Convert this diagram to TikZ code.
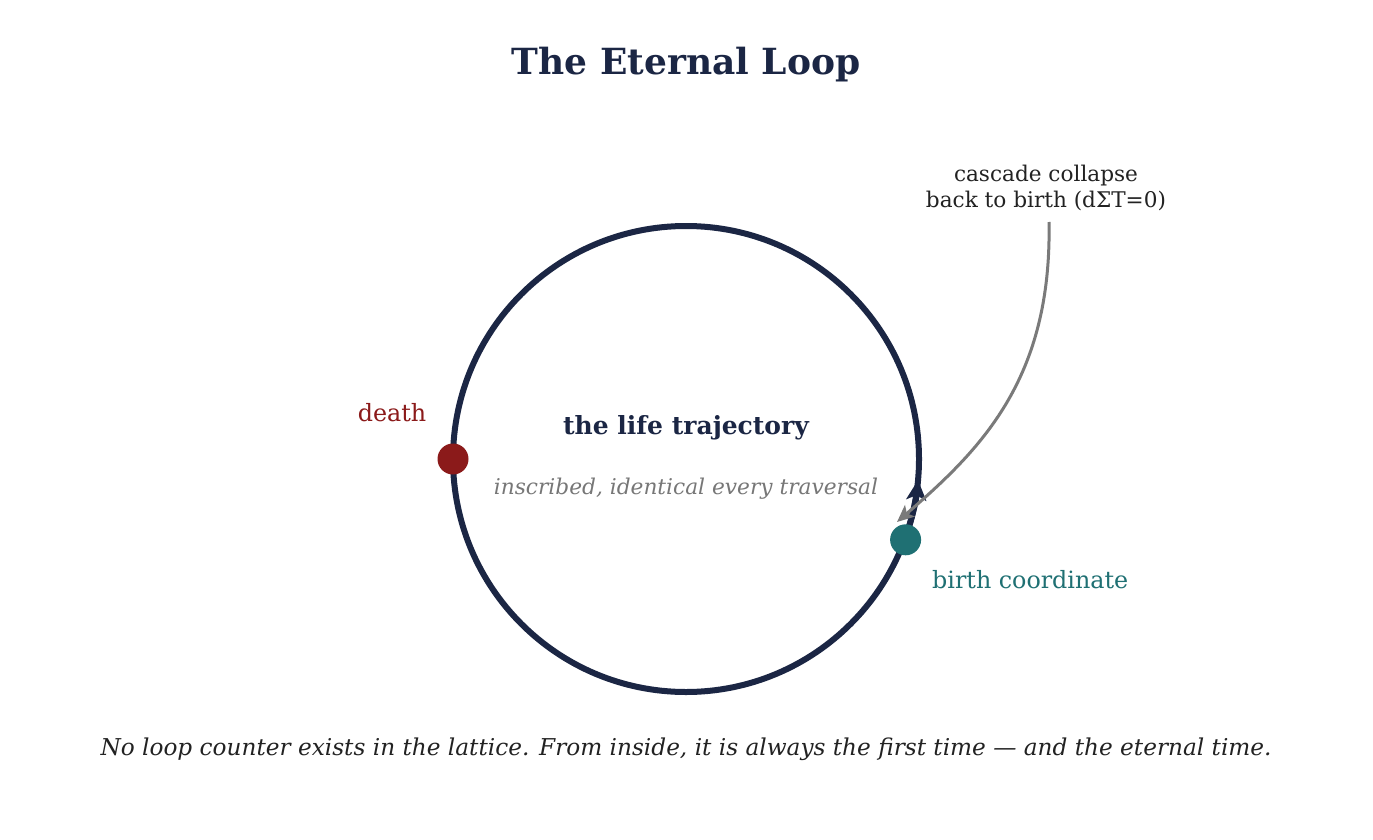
\documentclass[tikz,border=0pt]{standalone}
\usepackage{fontspec}
\setmainfont{DejaVu Serif}
\usetikzlibrary{arrows.meta,calc}
\definecolor{navy}{HTML}{1B2644}
\definecolor{dred}{HTML}{8B1A1A}
\definecolor{teal2}{HTML}{1F7073}
\definecolor{gtext}{HTML}{777777}
\definecolor{dtext}{HTML}{222222}
\definecolor{garrow}{HTML}{7A7A7A}
\tikzset{
  loopline/.style={draw=navy, line width=6pt},
  dot/.style={circle, inner sep=0pt, minimum size=31pt},
  lbl/.style={inner sep=0pt, anchor=center},
}
\begin{document}
\begin{tikzpicture}[x=1pt,y=-1pt]
\path[use as bounding box, fill=white] (0,0) rectangle (1373,840);
\coordinate (c) at (686,459);
\draw[loopline] (c) circle [radius=233];
\draw[loopline, -{Stealth[length=20pt,width=20pt,inset=5pt]}] ($(c)+(20:233)$) arc[start angle=20, end angle=5.2, radius=233];
\node[dot, fill=dred] (death) at ($(c)+(180:233)$) {};
\node[dot, fill=teal2] (birth) at ($(c)+(20.2:234)$) {};
\node[lbl, font=\bfseries\fontsize{36}{40}\selectfont, text=navy] (title) at (686,65) {The Eternal Loop};
\node[lbl, font=\bfseries\fontsize{25}{28}\selectfont, text=navy] (life) at (686,428) {the life trajectory};
\node[lbl, font=\itshape\fontsize{21.7}{24}\selectfont, text=gtext] (insc) at (686,489) {inscribed, identical every traversal};
\node[lbl, font=\fontsize{23.8}{26}\selectfont, text=dred] (dlbl) at (392,413) {death};
\node[lbl, font=\fontsize{23.8}{26}\selectfont, text=teal2, anchor=west] (blbl) at (932,580) {birth coordinate};
\node[lbl, font=\fontsize{21.6}{26}\selectfont, text=dtext, align=center] (casc) at (1046,188) {cascade collapse\\back to birth (dΣT=0)};
\coordinate (cstart) at (1049,222);
\coordinate (cend) at (897,522);
\draw[draw=garrow, line width=3pt, -{Stealth[length=17pt,width=15pt,inset=4pt]}] (cstart) .. controls (1052,380) and (980,450) .. (cend);
\node[lbl, font=\itshape\fontsize{23.2}{26}\selectfont, text=dtext] (foot) at (686,749) {No loop counter exists in the lattice. From inside, it is always the first time — and the eternal time.};
\end{tikzpicture}
\end{document}
